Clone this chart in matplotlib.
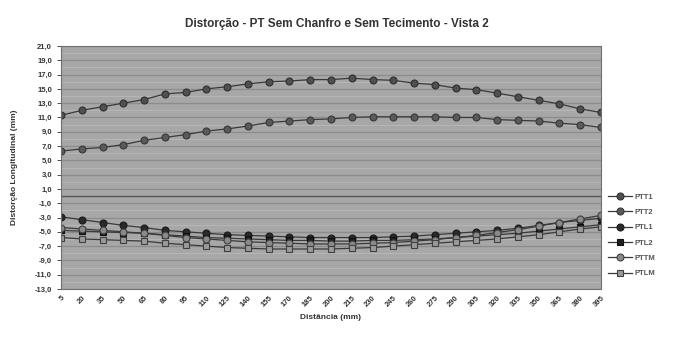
import numpy as np
import matplotlib.pyplot as plt
from matplotlib.ticker import FuncFormatter

plt.rcParams['font.family'] = ['Liberation Sans', 'DejaVu Sans']

distancia = [5 + 15 * i for i in range(27)]

ptt1 = [11.3, 12.0, 12.5, 13.0, 13.5, 14.3, 14.5, 15.0, 15.3, 15.7, 16.0, 16.1, 16.3, 16.3, 16.5,
        16.3, 16.2, 15.8, 15.6, 15.1, 14.9, 14.4, 13.9, 13.4, 12.9, 12.2, 11.7]
ptt2 = [6.3, 6.6, 6.8, 7.2, 7.8, 8.2, 8.6, 9.1, 9.4, 9.8, 10.3, 10.5, 10.7, 10.8, 11.0,
        11.1, 11.1, 11.1, 11.1, 11.0, 11.0, 10.7, 10.6, 10.5, 10.2, 10.0, 9.6]
ptl1 = [-2.9, -3.3, -3.7, -4.1, -4.4, -4.8, -5.0, -5.2, -5.4, -5.5, -5.6, -5.7, -5.8, -5.8,
        -5.8, -5.8, -5.7, -5.6, -5.4, -5.2, -5.0, -4.8, -4.5, -4.1, -3.7, -3.4, -3.1]
ptl2 = [-4.8, -4.9, -5.0, -5.1, -5.2, -5.4, -5.6, -5.8, -5.9, -6.0, -6.1, -6.2, -6.2, -6.3,
        -6.3, -6.2, -6.2, -6.1, -6.0, -5.8, -5.6, -5.4, -5.2, -4.9, -4.6, -4.3, -4.0]
pttm = [-4.4, -4.6, -4.8, -5.0, -5.2, -5.5, -5.8, -6.0, -6.2, -6.4, -6.5, -6.6, -6.7, -6.7,
        -6.7, -6.6, -6.5, -6.3, -6.1, -5.8, -5.5, -5.1, -4.7, -4.2, -3.7, -3.2, -2.7]
ptlm = [-5.8, -6.0, -6.1, -6.2, -6.3, -6.6, -6.8, -7.0, -7.2, -7.3, -7.4, -7.4, -7.4, -7.4,
        -7.3, -7.2, -7.0, -6.8, -6.6, -6.4, -6.2, -6.0, -5.7, -5.4, -5.0, -4.6, -4.3]

series = [
    ("PTT1", ptt1, 'o', '#505050', '#303030'),
    ("PTT2", ptt2, 'o', '#5a5a5a', '#383838'),
    ("PTL1", ptl1, 'o', '#2a2a2a', '#1a1a1a'),
    ("PTL2", ptl2, 's', '#1e1e1e', '#101010'),
    ("PTTM", pttm, 'o', '#8a8a8a', '#404040'),
    ("PTLM", ptlm, 's', '#9a9a9a', '#404040'),
]

fig = plt.figure(figsize=(6.73, 3.44), dpi=100)
ax = fig.add_axes([61 / 673, 1 - 289 / 344, 540 / 673, 243 / 344])
ax.set_facecolor('#a7a7a7')

x = np.arange(len(distancia))
for name, vals, mk, fc, ec in series:
    ax.plot(x, vals, color='#3a3a3a', lw=0.9, marker=mk, ms=5,
            mfc=fc, mec=ec, mew=0.8, label=name)

ax.set_xlim(0, len(distancia) - 1)
ax.set_ylim(-13, 21)
ax.set_yticks(np.arange(-13, 22, 2))
ax.set_yticks(np.arange(-12, 21, 2), minor=True)
ax.yaxis.set_major_formatter(FuncFormatter(lambda v, p: f"{v:.1f}".replace('.', ',')))
ax.grid(axis='y', which='major', color='#8c8c8c', lw=0.9)
ax.grid(axis='y', which='minor', color='#b9b9b9', lw=0.6)
ax.set_axisbelow(True)
ax.axhline(0, color='#555555', lw=1.0, zorder=1.5)

ax.set_xticks(x)
ax.set_xticklabels([str(d) for d in distancia], rotation=45, ha='right',
                   rotation_mode='anchor', fontsize=5.5, fontweight='bold', color='#333333')
ax.tick_params(axis='y', labelsize=5.5, colors='#333333', length=3, width=0.6)
ax.tick_params(axis='y', which='minor', length=0)
ax.tick_params(axis='x', length=0, pad=4)
for lab in ax.get_yticklabels():
    lab.set_fontweight('bold')
for sp in ax.spines.values():
    sp.set_color('#707070')
    sp.set_linewidth(0.8)

ax.set_title("Distorção - PT Sem Chanfro e Sem Tecimento - Vista 2", fontsize=8.5,
             fontweight='bold', color='#333333', pad=14, x=0.51)
ax.set_xlabel("Distância (mm)", fontsize=6, fontweight='bold', color='#333333', labelpad=4)
ax.set_ylabel("Distorção Longitudinal (mm)", fontsize=6, fontweight='bold', color='#333333',
              labelpad=12)

leg = ax.legend(loc='upper left', bbox_to_anchor=(1.005, 0.41), frameon=False,
                fontsize=5.5, handlelength=3.2, labelspacing=1.05, borderpad=0,
                handletextpad=0.3)
for t in leg.get_texts():
    t.set_color('#555555')
    t.set_fontweight('bold')

plt.savefig("out.png", dpi=100)
